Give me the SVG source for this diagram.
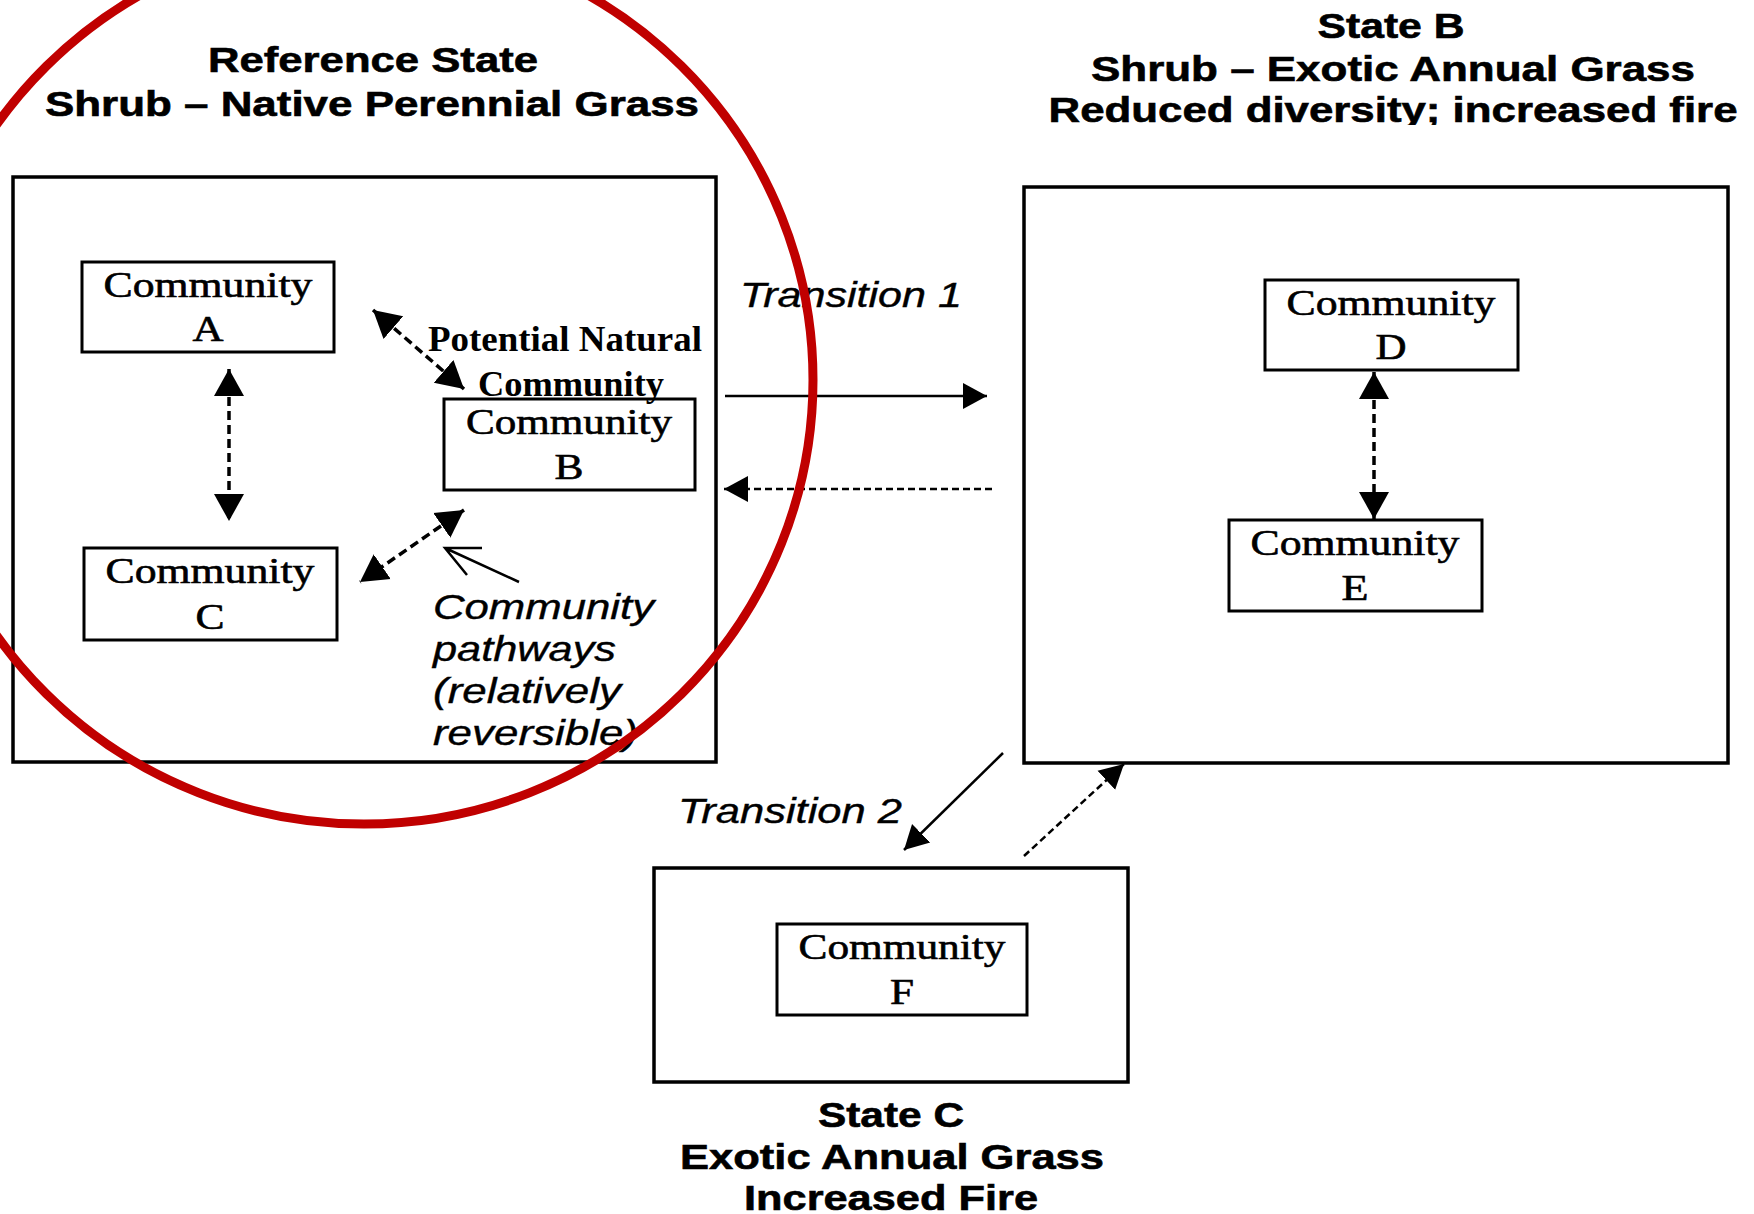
<svg xmlns="http://www.w3.org/2000/svg" width="1754" height="1214" viewBox="0 0 1754 1214">
<style>
.title{font-family:"Liberation Sans",Arial,sans-serif;font-weight:bold;font-size:35px;fill:#000;stroke:#000;stroke-width:0.6;text-anchor:middle}
.comm{font-family:"Liberation Serif","Times New Roman",serif;font-size:36px;fill:#000;stroke:#000;stroke-width:0.6;text-anchor:middle}
.pnc{font-family:"Liberation Serif","Times New Roman",serif;font-weight:bold;font-size:35px;fill:#000;text-anchor:middle}
.ital{font-family:"Liberation Sans",Arial,sans-serif;font-style:italic;font-size:35px;fill:#000;stroke:#000;stroke-width:0.4}
.state{fill:none;stroke:#000;stroke-width:3.5}
.box{fill:none;stroke:#000;stroke-width:3}
.dash{fill:none;stroke:#000;stroke-width:3.5;stroke-dasharray:9 5}
.tsolid{fill:none;stroke:#000;stroke-width:2.5}
.tdash{fill:none;stroke:#000;stroke-width:2.5;stroke-dasharray:7 4}
</style>
<defs>
<marker id="big" markerUnits="userSpaceOnUse" markerWidth="28" markerHeight="32" refX="27" refY="16" orient="auto-start-reverse">
<path d="M0,1 L27,16 L0,31 Z" fill="#000"/>
</marker>
<marker id="tr" markerUnits="userSpaceOnUse" markerWidth="26" markerHeight="28" refX="24" refY="14" orient="auto-start-reverse">
<path d="M0,1 L24,14 L0,27 Z" fill="#000"/>
</marker>
<clipPath id="clipB"><rect x="1000" y="0" width="754" height="125"/></clipPath>
</defs>
<rect width="1754" height="1214" fill="#fff"/>

<g id="reference-state">
<rect class="state" x="13" y="177" width="703" height="585"/>
<text class="title" x="373" y="72" textLength="330" lengthAdjust="spacingAndGlyphs">Reference State</text>
<text class="title" x="372" y="116" textLength="654" lengthAdjust="spacingAndGlyphs">Shrub – Native Perennial Grass</text>
</g>

<g id="state-b">
<rect class="state" x="1024" y="187" width="704" height="576"/>
<text class="title" x="1391" y="38" textLength="147" lengthAdjust="spacingAndGlyphs">State B</text>
<text class="title" x="1393" y="81" textLength="604" lengthAdjust="spacingAndGlyphs">Shrub – Exotic Annual Grass</text>
<text class="title" x="1393" y="122" textLength="689" lengthAdjust="spacingAndGlyphs" clip-path="url(#clipB)">Reduced diversity; increased fire</text>
</g>

<g id="state-c">
<rect class="state" x="654" y="868" width="474" height="214"/>
<text class="title" x="891" y="1127" textLength="146" lengthAdjust="spacingAndGlyphs">State C</text>
<text class="title" x="892" y="1169" textLength="424" lengthAdjust="spacingAndGlyphs">Exotic Annual Grass</text>
<text class="title" x="891" y="1210" textLength="294" lengthAdjust="spacingAndGlyphs">Increased Fire</text>
</g>

<g id="community-a">
<rect class="box" x="82" y="262" width="252" height="90"/>
<text class="comm" x="208" y="297" textLength="209" lengthAdjust="spacingAndGlyphs">Community</text>
<text class="comm" x="208" y="341" textLength="31" lengthAdjust="spacingAndGlyphs">A</text>
</g>

<g id="community-b">
<rect class="box" x="444" y="399" width="251" height="91"/>
<text class="comm" x="569" y="434" textLength="206" lengthAdjust="spacingAndGlyphs">Community</text>
<text class="comm" x="569" y="479" textLength="29" lengthAdjust="spacingAndGlyphs">B</text>
</g>

<g id="community-c">
<rect class="box" x="84" y="548" width="253" height="92"/>
<text class="comm" x="210" y="583" textLength="209" lengthAdjust="spacingAndGlyphs">Community</text>
<text class="comm" x="210" y="629" textLength="29" lengthAdjust="spacingAndGlyphs">C</text>
</g>

<g id="community-d">
<rect class="box" x="1265" y="280" width="253" height="90"/>
<text class="comm" x="1391" y="315" textLength="209" lengthAdjust="spacingAndGlyphs">Community</text>
<text class="comm" x="1391" y="359" textLength="31" lengthAdjust="spacingAndGlyphs">D</text>
</g>

<g id="community-e">
<rect class="box" x="1229" y="520" width="253" height="91"/>
<text class="comm" x="1355" y="555" textLength="209" lengthAdjust="spacingAndGlyphs">Community</text>
<text class="comm" x="1355" y="600" textLength="27" lengthAdjust="spacingAndGlyphs">E</text>
</g>

<g id="community-f">
<rect class="box" x="777" y="924" width="250" height="91"/>
<text class="comm" x="902" y="959" textLength="207" lengthAdjust="spacingAndGlyphs">Community</text>
<text class="comm" x="902" y="1004" textLength="24" lengthAdjust="spacingAndGlyphs">F</text>
</g>

<g id="labels">
<text class="pnc" x="565" y="351" textLength="274" lengthAdjust="spacingAndGlyphs">Potential Natural</text>
<text class="pnc" x="571" y="396" textLength="186" lengthAdjust="spacingAndGlyphs">Community</text>
<text class="ital" x="433" y="619" textLength="221" lengthAdjust="spacingAndGlyphs">Community</text>
<text class="ital" x="433" y="661" textLength="183" lengthAdjust="spacingAndGlyphs">pathways</text>
<text class="ital" x="433" y="703" textLength="188" lengthAdjust="spacingAndGlyphs">(relatively</text>
<text class="ital" x="433" y="745" textLength="205" lengthAdjust="spacingAndGlyphs">reversible)</text>
<text class="ital" x="851" y="307" text-anchor="middle" textLength="222" lengthAdjust="spacingAndGlyphs">Transition 1</text>
<text class="ital" x="790" y="823" text-anchor="middle" textLength="224" lengthAdjust="spacingAndGlyphs">Transition 2</text>
</g>

<g id="connectors">
<line class="dash" x1="229" y1="369" x2="229" y2="521" marker-start="url(#big)" marker-end="url(#big)"/>
<line class="dash" x1="373" y1="310" x2="464" y2="389" marker-start="url(#big)" marker-end="url(#big)"/>
<line class="dash" x1="464" y1="510" x2="360" y2="582" marker-start="url(#big)" marker-end="url(#big)"/>
<line class="dash" x1="1374" y1="372" x2="1374" y2="519" marker-start="url(#big)" marker-end="url(#big)"/>
<line class="tsolid" x1="725" y1="396" x2="987" y2="396" marker-end="url(#tr)"/>
<line class="tdash" x1="992" y1="489" x2="724" y2="489" marker-end="url(#tr)"/>
<line class="tsolid" x1="1003" y1="753" x2="904" y2="850" marker-end="url(#tr)"/>
<line class="tdash" x1="1024" y1="856" x2="1124" y2="764" marker-end="url(#tr)"/>
<path class="tsolid" d="M519,582 L445,548 M482,548 L445,548 L467,575"/>
</g>

<ellipse cx="364" cy="380" rx="449" ry="444" fill="none" stroke="#c00000" stroke-width="9"/>
</svg>
